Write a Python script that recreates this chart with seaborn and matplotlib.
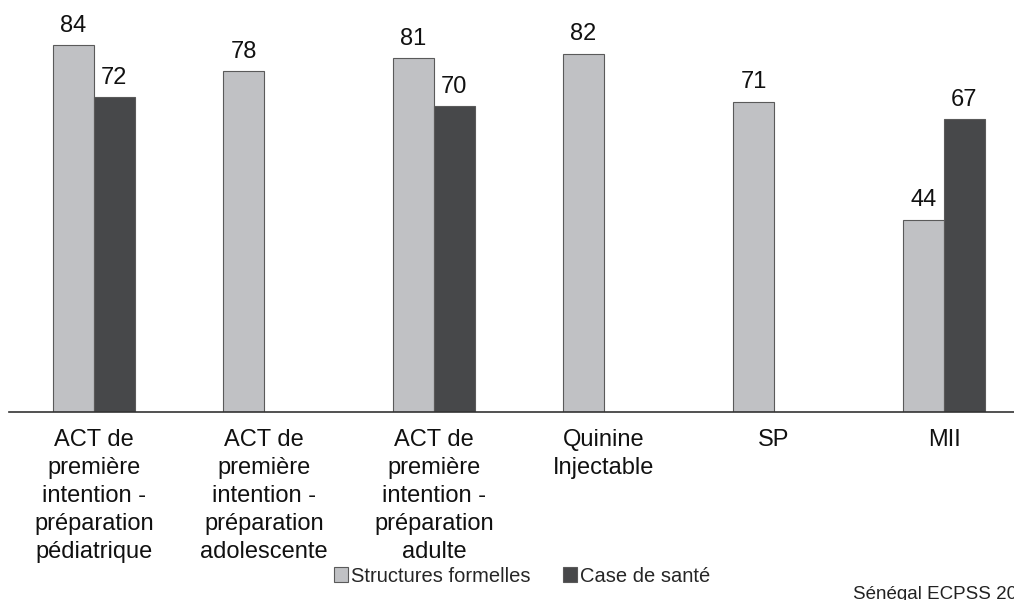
import matplotlib
matplotlib.use("Agg")
import numpy as np
import pandas as pd
import matplotlib.pyplot as plt
import seaborn as sns
from matplotlib.patches import Patch

# Data
categories = [
    "ACT de\npremière\nintention -\npréparation\npédiatrique",
    "ACT de\npremière\nintention -\npréparation\nadolescente",
    "ACT de\npremière\nintention -\npréparation\nadulte",
    "Quinine\nInjectable",
    "SP",
    "MII",
]
structures_formelles = [84, 78, 81, 82, 71, 44]
case_de_sante = [72, np.nan, 70, np.nan, np.nan, 67]
series_names = ["Structures formelles", "Case de santé"]
colors = ["#c0c1c4", "#47484a"]

df = pd.DataFrame({
    "categorie": categories * 2,
    "serie": [series_names[0]] * len(categories) + [series_names[1]] * len(categories),
    "valeur": structures_formelles + case_de_sante,
})

sns.set_style("white")
plt.rcParams["font.family"] = ["Liberation Sans", "DejaVu Sans"]

fig = plt.figure(figsize=(10.14, 6), dpi=100)
# axes spans the baseline across the whole width (slightly past the right edge)
ax = fig.add_axes([9 / 1014, 188 / 600, 1020 / 1014, 412 / 600])

sns.barplot(data=df, x="categorie", y="valeur", hue="serie",
            hue_order=series_names, palette=dict(zip(series_names, colors)),
            width=0.48, edgecolor="#5a5a5a", linewidth=0.8, ax=ax,
            legend=False)

for cont in ax.containers:
    ax.bar_label(cont, fmt="%d", padding=6, fontsize=17, color="#111111")

ax.set_xlim(-0.5, 5.5)
ax.set_ylim(0, 94.3)
ax.set_xlabel("")
ax.set_ylabel("")
ax.set_yticks([])
for side in ["top", "left", "right"]:
    ax.spines[side].set_visible(False)
ax.spines["bottom"].set_color("#333333")
ax.spines["bottom"].set_linewidth(1.2)
ax.tick_params(axis="x", length=0, pad=12, labelsize=17, labelcolor="#111111")
for lbl in ax.get_xticklabels():
    lbl.set_linespacing(1.36)
    lbl.set_verticalalignment("top")

handles = [Patch(facecolor=c, edgecolor="#5a5a5a", linewidth=0.8) for c in colors]
fig.legend(handles, series_names, loc="center", bbox_to_anchor=(522 / 1014, 1 - 576 / 600),
           ncol=2, frameon=False, fontsize=14.5, handlelength=0.7, handleheight=0.7,
           handletextpad=0.15, columnspacing=1.6)

# source note, clipped at the figure edge as in the original
fig.text(853 / 1014, 1 - 586 / 600, "Sénégal ECPSS 2012-2013", fontsize=13.5,
         color="#222222", ha="left", va="top")

fig.savefig("out.png", dpi=100)
